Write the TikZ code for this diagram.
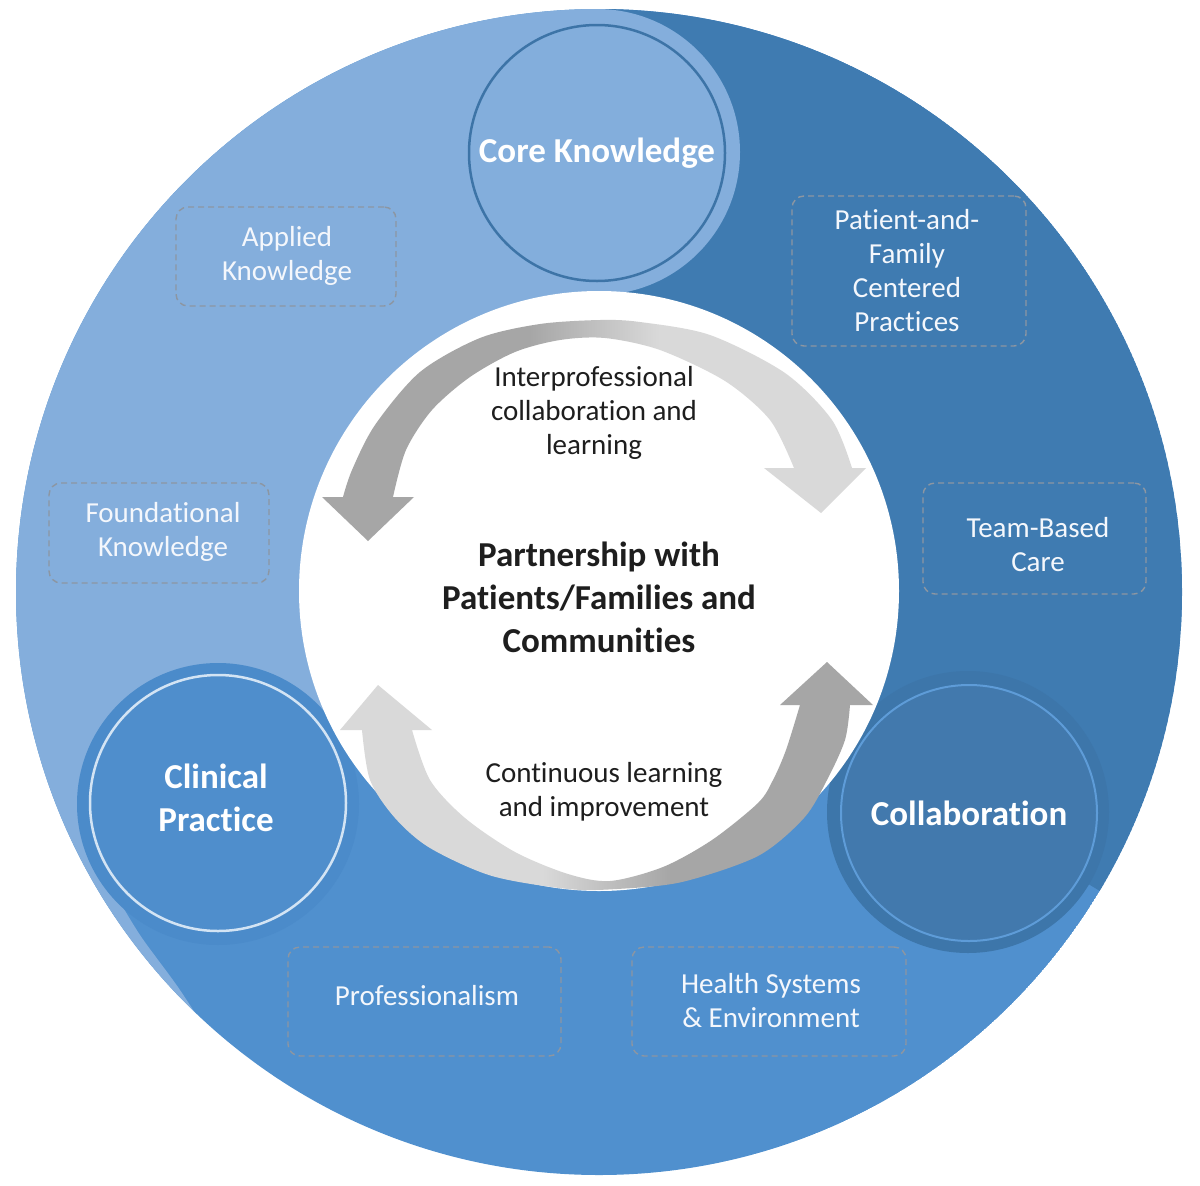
\documentclass[tikz,border=0pt]{standalone}
\usepackage{fontspec}
\setmainfont{Carlito}[Ligatures={NoCommon}]
\definecolor{lightblue}{HTML}{84AEDC}
\definecolor{darkblue}{HTML}{3F7BB1}
\definecolor{midblue}{HTML}{5090CE}
\definecolor{corefill}{HTML}{83AEDC}
\definecolor{coreline}{HTML}{3D74A7}
\definecolor{clinhalo}{HTML}{4B8BCA}
\definecolor{clinfill}{HTML}{4F8ECC}
\definecolor{clinline}{HTML}{D3E4F4}
\definecolor{colhalo}{HTML}{3D76AA}
\definecolor{colfill}{HTML}{4279AD}
\definecolor{colline}{HTML}{5E9CD8}
\definecolor{gdark}{HTML}{A6A6A6}
\definecolor{glight}{HTML}{D9D9D9}
\definecolor{dashc}{HTML}{8C96A2}
\definecolor{txt}{HTML}{1E1E1E}
\definecolor{wtxt}{HTML}{F4F7FC}
\pgfdeclarehorizontalshading{darklight}{100bp}{color(0bp)=(gdark); color(25bp)=(gdark); color(44bp)=(gdark); color(56bp)=(glight); color(75bp)=(glight); color(100bp)=(glight)}
\pgfdeclarehorizontalshading{lightdark}{100bp}{color(0bp)=(glight); color(25bp)=(glight); color(44bp)=(glight); color(56bp)=(gdark); color(75bp)=(gdark); color(100bp)=(gdark)}
\tikzset{
  dbox/.style={draw=dashc, dash pattern=on 6pt off 4pt, line width=1.4pt, rounded corners=12pt, inner sep=0pt},
  boxtxt/.style={text=wtxt, align=center, inner sep=0pt, font=\fontsize{29}{34}\selectfont},
  bigcirc/.style={circle, inner sep=0pt, minimum size=256pt, text=white, align=center,
    font=\bfseries\fontsize{35}{43}\selectfont},
  plaintxt/.style={text=txt, align=center, inner sep=0pt, font=\fontsize{29}{34}\selectfont},
  boldtxt/.style={text=txt, align=center, inner sep=0pt, font=\bfseries\fontsize{35}{43}\selectfont}
}
\begin{document}
\begin{tikzpicture}[x=1pt,y=-1pt]
\useasboundingbox (0,0) rectangle (1200,1186);
% ring sectors
\begin{scope}
\clip (599,592) circle (583pt);
\fill[midblue] (599,592) circle (583pt);
\fill[lightblue] (597,-50) -- (597,300) -- (599,591) -- (218,804) -- plot[smooth] coordinates {(110,885) (140,935) (180,990) (225,1060)} -- (-100,1100) -- (-100,-50) -- cycle;
\fill[darkblue] (597,-50) -- (597,300) -- (599,591) -- (968,812) -- (1085,882) -- (1125,906) -- (1300,906) -- (1300,-50) -- cycle;
\fill[lightblue] (597,152) circle (143pt);
\fill[clinhalo] (218,804) circle (141pt);
\fill[colhalo] (968,812) circle (141pt);
\end{scope}
% white centre
\fill[white] (599,591) circle (300pt);
% three theme circles
\node[bigcirc, fill=corefill, draw=coreline, line width=2.5pt] (core) at (597,153) {Core Knowledge};
\node[bigcirc, fill=clinfill, draw=clinline, line width=2.5pt] (clin) at (218,803) {};
\node[bigcirc] (clintxt) at (216,798) {Clinical\\Practice};
\node[bigcirc, fill=colfill, draw=colline, line width=2pt] (collab) at (969,813) {Collaboration};
% top arrows
\shade[shading=darklight] (368,541) -- (414,497) -- plot[smooth] coordinates {(393,497) (406,450) (432,410) (470,377) (515,352) (560,340) (605,338) (660,350) (725,381) (770,420) (794,468)} -- (764,468) -- (821,513) -- (866,468) -- plot[smooth] coordinates {(852,468) (832,420) (785,373) (710,335) (640,322) (600,320) (540,324) (480,338) (420,372) (375,425) (352,470) (343,497)} -- (322,497) -- cycle;
% bottom arrows
\shade[shading=lightdark] (378,685) -- (432,730) -- plot[smooth] coordinates {(412,730) (430,780) (465,818) (515,852) (568,874) (610,881) (663,867) (712,840) (758,803) (773,780) (786,750) (800,705)} -- (780,705) -- (827,662) -- (873,705) -- plot[smooth] coordinates {(850,705) (845,740) (827,780) (804,818) (758,856) (682,882) (617,889) (568,889) (492,876) (430,848) (395,818) (370,780) (362,730)} -- (340,730) -- cycle;
% centre texts
\node[boldtxt] (partner) at (599,597) {Partnership with\\Patients/Families and\\Communities};
\node[plaintxt] (interp) at (594,413) {Interprofessional\\collaboration and\\learning};
\node[plaintxt] (contin) at (604,792) {Continuous learning\\and improvement};
% dashed boxes
\node[dbox, minimum width=220pt, minimum height=99pt] (applied) at (286,256.5) {};
\node[boxtxt] (appliedtxt) at (287,255.5) {Applied\\Knowledge};
\node[dbox, minimum width=234pt, minimum height=150pt] (pfcc) at (909,271) {};
\node[boxtxt] (pfcctxt) at (907,271) {Patient-and-\\Family\\Centered\\Practices};
\node[dbox, minimum width=220pt, minimum height=100pt] (found) at (159,533) {};
\node[boxtxt] (foundtxt) at (163,531.5) {Foundational\\Knowledge};
\node[dbox, minimum width=223pt, minimum height=111pt] (team) at (1034.5,538.5) {};
\node[boxtxt] (teamtxt) at (1038,545) {Team-Based\\Care};
\node[dbox, minimum width=273pt, minimum height=109pt] (prof) at (424.5,1001.5) {};
\node[boxtxt] (proftxt) at (427,996) {Professionalism};
\node[dbox, minimum width=274pt, minimum height=109pt] (health) at (769,1001.5) {};
\node[boxtxt] (healthtxt) at (771,1001) {Health Systems\\\& Environment};
\end{tikzpicture}
\end{document}
